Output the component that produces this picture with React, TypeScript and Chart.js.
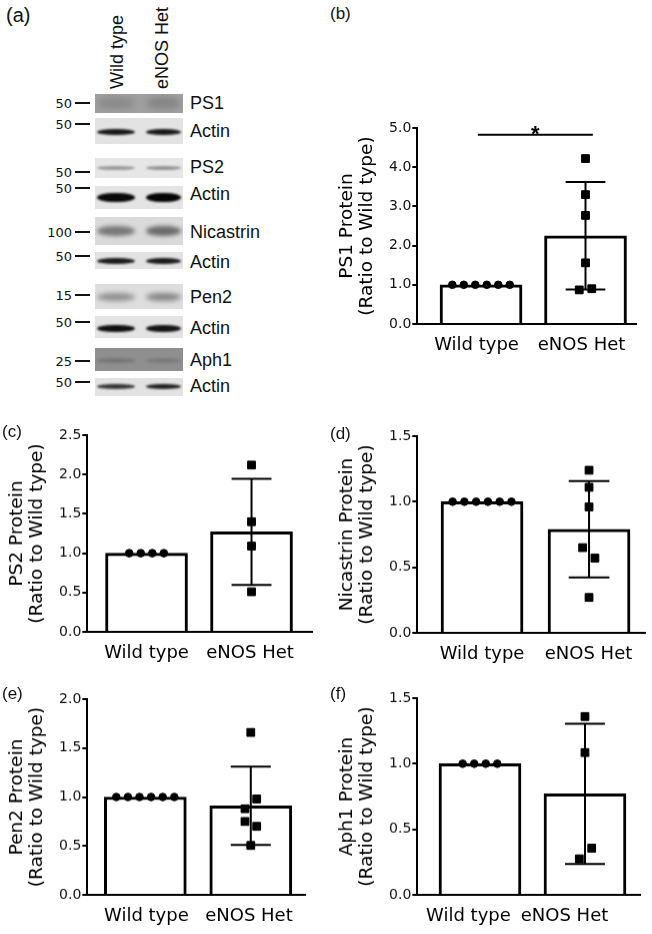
import React, { useEffect, useRef } from 'react';
import { Chart, registerables } from 'chart.js';

Chart.register(...registerables);

const CHART_FONT = '"DejaVu Sans", sans-serif';
const HTML_FONT = '"Liberation Sans", Arial, sans-serif';

// ---------- data ----------
const groups = ['Wild type', 'eNOS Het'];

// (b) PS1
const ps1Wt = [1, 1, 1, 1, 1, 1];
const ps1Het = [4.22, 3.3, 2.77, 1.56, 0.87, 0.9];
const ps1HetJitter = [0, 0, 0, 0, -0.06, 0.06];
const ps1Mean = [1.0, 2.25];
const ps1Sd = [0, 1.37];
const ps1Sig = { from: 0.97, to: 2.07, y: 4.83, label: '*' };

// (c) PS2
const ps2Wt = [1, 1, 1, 1];
const ps2Het = [2.12, 1.4, 1.09, 0.51];
const ps2HetJitter = [0, 0, 0, 0];
const ps2Mean = [1.0, 1.27];
const ps2Sd = [0, 0.675];

// (d) Nicastrin
const nicWt = [1, 1, 1, 1, 1, 1];
const nicHet = [1.24, 1.11, 0.96, 0.65, 0.57, 0.27];
const nicHetJitter = [0, 0, 0, -0.06, 0.055, 0];
const nicMean = [1.0, 0.79];
const nicSd = [0, 0.367];

// (e) Pen2
const pen2Wt = [1, 1, 1, 1, 1, 1];
const pen2Het = [1.66, 0.98, 0.88, 0.75, 0.7, 0.505];
const pen2HetJitter = [0, 0.056, -0.055, -0.055, 0.056, 0];
const pen2Mean = [1.0, 0.91];
const pen2Sd = [0, 0.4];

// (f) Aph1
const aph1Wt = [1, 1, 1, 1];
const aph1Het = [1.36, 1.085, 0.356, 0.275];
const aph1HetJitter = [0, 0, 0.064, -0.054];
const aph1Mean = [1.0, 0.77];
const aph1Sd = [0, 0.535];

// (a) western blot
const blotRows = ['PS1', 'Actin', 'PS2', 'Actin', 'Nicastrin', 'Actin', 'Pen2', 'Actin', 'Aph1', 'Actin'];
const blotMarkers = ['50', '50', '50', '50', '100', '50', '15', '50', '25', '50'];
const laneLabels = ['Wild type', 'eNOS Het'];

// ---------- layout / style ----------
const WT_SPREAD = 0.11;
const CAP = 0.19;
const PAD_TOP = 28;
const X_AXIS_H = 36;

type PanelCfg = {
  key: string;
  left: number;
  width: number;
  axisLeft: number;
  axisRight: number;
  axisTop: number;
  axisBottom: number;
  xMin: number;
  xMax: number;
  yMax: number;
  yStep: number;
  labelPos: number[];
  title: string[];
  wt: number[];
  het: number[];
  jitter: number[];
  mean: number[];
  sd: number[];
  sig?: { from: number; to: number; y: number; label: string };
};

const panels: PanelCfg[] = [
  {
    key: 'b', left: 330, width: 322, axisLeft: 417.3, axisRight: 636.7, axisTop: 128, axisBottom: 324,
    xMin: 0.39, xMax: 2.49, yMax: 5, yStep: 1, labelPos: [0.957, 1.962],
    title: ['PS1 Protein', '(Ratio to Wild type)'],
    wt: ps1Wt, het: ps1Het, jitter: ps1HetJitter, mean: ps1Mean, sd: ps1Sd, sig: ps1Sig,
  },
  {
    key: 'c', left: 0, width: 330, axisLeft: 87.3, axisRight: 312, axisTop: 435, axisBottom: 631.7,
    xMin: 0.436, xMax: 2.576, yMax: 2.5, yStep: 0.5, labelPos: [1, 1.986],
    title: ['PS2 Protein', '(Ratio to Wild type)'],
    wt: ps2Wt, het: ps2Het, jitter: ps2HetJitter, mean: ps2Mean, sd: ps2Sd,
  },
  {
    key: 'd', left: 330, width: 322, axisLeft: 417.3, axisRight: 645, axisTop: 436, axisBottom: 632.7,
    xMin: 0.395, xMax: 2.523, yMax: 1.5, yStep: 0.5, labelPos: [1, 1.995],
    title: ['Nicastrin Protein', '(Ratio to Wild type)'],
    wt: nicWt, het: nicHet, jitter: nicHetJitter, mean: nicMean, sd: nicSd,
  },
  {
    key: 'e', left: 0, width: 330, axisLeft: 87.3, axisRight: 305, axisTop: 699.3, axisBottom: 895,
    xMin: 0.45, xMax: 2.514, yMax: 2, yStep: 0.5, labelPos: [1.01, 1.983],
    title: ['Pen2 Protein', '(Ratio to Wild type)'],
    wt: pen2Wt, het: pen2Het, jitter: pen2HetJitter, mean: pen2Mean, sd: pen2Sd,
  },
  {
    key: 'f', left: 330, width: 322, axisLeft: 417.3, axisRight: 640, axisTop: 698.3, axisBottom: 895,
    xMin: 0.403, xMax: 2.524, yMax: 1.5, yStep: 0.5, labelPos: [0.89, 1.805],
    title: ['Aph1 Protein', '(Ratio to Wild type)'],
    wt: aph1Wt, het: aph1Het, jitter: aph1HetJitter, mean: aph1Mean, sd: aph1Sd,
  },
];

const sigPlugin = {
  id: 'sigStar',
  afterDatasetsDraw(chart: any, _args: any, opts: any) {
    const sig = opts && opts.sig;
    if (!sig) return;
    const { ctx, scales } = chart;
    const px = scales.x.getPixelForValue((sig.from + sig.to) / 2);
    const py = scales.y.getPixelForValue(sig.y);
    ctx.save();
    ctx.fillStyle = '#000';
    ctx.font = 'bold 22px "Liberation Sans", Arial, sans-serif';
    ctx.textAlign = 'center';
    ctx.textBaseline = 'alphabetic';
    ctx.fillText(sig.label, px, py + 6);
    ctx.restore();
  },
};

function BarPanel({ cfg }: { cfg: PanelCfg }) {
  const ref = useRef<HTMLCanvasElement>(null);
  const canvasTop = cfg.axisTop - PAD_TOP;
  const canvasH = cfg.axisBottom - cfg.axisTop + PAD_TOP + X_AXIS_H;

  useEffect(() => {
    if (!ref.current) return;
    const yScaleWidth = cfg.axisLeft - cfg.left;
    const padRight = cfg.left + cfg.width - cfg.axisRight;

    const wtPts = cfg.wt.map((v, i) => ({ x: 1 + (i - (cfg.wt.length - 1) / 2) * WT_SPREAD, y: v }));
    const hetPts = cfg.het.map((v, i) => ({ x: 2 + cfg.jitter[i], y: v }));
    const err: { x: number; y: number | null }[] = [];
    cfg.mean.forEach((m, i) => {
      const s = cfg.sd[i];
      if (!s) return;
      const x = i + 1;
      err.push(
        { x: x - CAP, y: m + s }, { x: x + CAP, y: m + s }, { x, y: null },
        { x, y: m + s }, { x, y: m - s }, { x, y: null },
        { x: x - CAP, y: m - s }, { x: x + CAP, y: m - s }, { x, y: null },
      );
    });

    const datasets: any[] = [
      {
        type: 'scatter', data: wtPts, pointStyle: 'circle', pointRadius: 3.8, pointHoverRadius: 3.8,
        backgroundColor: '#000', borderColor: '#000', borderWidth: 1, order: 0,
      },
      {
        type: 'scatter', data: hetPts, pointStyle: 'rect', pointRadius: 5.5, pointHoverRadius: 5.5,
        backgroundColor: '#000', borderColor: '#000', borderWidth: 1, order: 0,
      },
      {
        type: 'line', data: err, borderColor: '#000', borderWidth: 2, pointRadius: 0,
        pointHitRadius: 0, spanGaps: false, tension: 0, fill: false, order: 1,
      },
    ];
    if (cfg.sig) {
      datasets.push({
        type: 'line',
        data: [{ x: cfg.sig.from, y: cfg.sig.y }, { x: cfg.sig.to, y: cfg.sig.y }],
        borderColor: '#000', borderWidth: 2, pointRadius: 0, fill: false, order: 1,
      });
    }
    datasets.push({
      type: 'bar',
      data: cfg.mean.map((m, i) => ({ x: i + 1, y: m })),
      backgroundColor: '#fff', borderColor: '#000', borderWidth: 3, barThickness: 82, order: 2,
    });

    const chart = new Chart(ref.current, {
      type: 'bar',
      data: { datasets },
      plugins: [sigPlugin],
      options: {
        animation: false,
        responsive: false,
        devicePixelRatio: 1,
        layout: { padding: { top: PAD_TOP, right: padRight, left: 0, bottom: 0 } },
        plugins: {
          legend: { display: false },
          tooltip: { enabled: false },
          sigStar: { sig: cfg.sig },
        } as any,
        scales: {
          x: {
            type: 'linear',
            min: cfg.xMin,
            max: cfg.xMax,
            offset: false,
            afterBuildTicks: (s: any) => {
              s.ticks = cfg.labelPos.map((v) => ({ value: v }));
            },
            afterFit: (s: any) => {
              s.height = X_AXIS_H;
            },
            ticks: {
              autoSkip: false,
              maxRotation: 0,
              minRotation: 0,
              padding: 3,
              color: '#000',
              font: { family: CHART_FONT, size: 18 },
              callback: (_v: any, i: number) => groups[i],
            },
            grid: { display: false, offset: false },
            border: { display: true, color: '#000', width: 2 },
          },
          y: {
            type: 'linear',
            min: 0,
            max: cfg.yMax,
            ticks: {
              stepSize: cfg.yStep,
              padding: 1,
              color: '#111',
              font: { family: CHART_FONT, size: 14 },
              callback: (v: any) => Number(v).toFixed(1),
            },
            grid: {
              display: true, drawOnChartArea: false, drawTicks: true, tickLength: 5,
              color: '#000', lineWidth: 2,
            },
            border: { display: true, color: '#000', width: 2 },
            title: {
              display: true,
              text: cfg.title,
              color: '#000',
              font: { family: CHART_FONT, size: 18.5, lineHeight: 1.08 },
              padding: { top: 7, bottom: 0 },
            },
            afterFit: (s: any) => {
              s.width = yScaleWidth;
            },
          },
        } as any,
      },
    });
    return () => chart.destroy();
  }, [cfg]);

  return (
    <canvas
      ref={ref}
      width={cfg.width}
      height={canvasH}
      style={{ position: 'absolute', left: cfg.left, top: canvasTop, width: cfg.width, height: canvasH }}
    />
  );
}

// ---------- blot (panel a) ----------
const blotLayout = [
  { top: 94, h: 19, band: 103, bh: 12, mark: 103, label: 103, bg: '#a0a0a0', bc: ['#8a8a8a', '#858585'], blur: 3 },
  { top: 118, h: 26, band: 132, bh: 6, mark: 124, label: 131, bg: '#e3e3e3', bc: ['#1a1a1a', '#1a1a1a'], blur: 1 },
  { top: 158, h: 20, band: 168, bh: 4, mark: 172, label: 167, bg: '#e6e6e6', bc: ['#9a9a9a', '#959595'], blur: 1 },
  { top: 186, h: 23, band: 197, bh: 9, mark: 188, label: 194, bg: '#e4e4e4', bc: ['#0a0a0a', '#050505'], blur: 1 },
  { top: 217, h: 28, band: 231, bh: 10, mark: 232, label: 232, bg: '#dadada', bc: ['#777', '#6a6a6a'], blur: 2 },
  { top: 252, h: 17, band: 261, bh: 6, mark: 256, label: 262, bg: '#e2e2e2', bc: ['#1c1c1c', '#1c1c1c'], blur: 1 },
  { top: 284, h: 25, band: 297, bh: 8, mark: 295, label: 297, bg: '#dedede', bc: ['#8e8e8e', '#858585'], blur: 2.5 },
  { top: 316, h: 22, band: 328, bh: 7, mark: 322, label: 328, bg: '#e3e3e3', bc: ['#101010', '#151515'], blur: 1 },
  { top: 348, h: 23, band: 360, bh: 5, mark: 361, label: 360, bg: '#8f8f8f', bc: ['#767676', '#7a7a7a'], blur: 1.5 },
  { top: 378, h: 18, band: 386, bh: 5, mark: 382, label: 386, bg: '#e2e2e2', bc: ['#383838', '#222'], blur: 1 },
];
const lanes = [
  { l: 97, w: 38 },
  { l: 146, w: 35 },
];

function Blot() {
  return (
    <>
      {laneLabels.map((t, i) => (
        <div
          key={t}
          style={{
            position: 'absolute', left: i === 0 ? 108 : 153, top: 89, fontFamily: HTML_FONT, fontSize: 18,
            lineHeight: '18px', whiteSpace: 'nowrap', transformOrigin: 'left top', transform: 'rotate(-90deg)',
            color: '#111',
          }}
        >
          {t}
        </div>
      ))}
      {blotRows.map((name, r) => {
        const L = blotLayout[r];
        return (
          <React.Fragment key={r}>
            <div style={{ position: 'absolute', left: 95, top: L.top, width: 88, height: L.h, background: L.bg, overflow: 'hidden' }}>
              {lanes.map((ln, k) => (
                <div
                  key={k}
                  style={{
                    position: 'absolute', left: ln.l - 95, top: L.band - L.top - L.bh / 2, width: ln.w, height: L.bh,
                    background: L.bc[k], borderRadius: '45% / 50%', filter: `blur(${L.blur}px)`,
                  }}
                />
              ))}
            </div>
            <div
              style={{
                position: 'absolute', left: 190, top: L.label - 8.8, fontFamily: HTML_FONT, fontSize: 18,
                lineHeight: '18px', whiteSpace: 'nowrap', color: '#111',
              }}
            >
              {name}
            </div>
            <div
              style={{
                position: 'absolute', left: 34, width: 38, top: L.mark - 6.3, textAlign: 'right', fontFamily: CHART_FONT,
                fontSize: 13, lineHeight: '13px', color: '#111',
              }}
            >
              {blotMarkers[r]}
            </div>
            <div style={{ position: 'absolute', left: 75, top: L.mark - 1, width: 15, height: 2, background: '#111' }} />
          </React.Fragment>
        );
      })}
    </>
  );
}

const panelLabels = [
  { t: '(a)', x: 6, y: 4.6, s: 20 },
  { t: '(b)', x: 330, y: 5, s: 17 },
  { t: '(c)', x: 2, y: 423, s: 17 },
  { t: '(d)', x: 330, y: 425, s: 17 },
  { t: '(e)', x: 2, y: 685, s: 17 },
  { t: '(f)', x: 330, y: 685, s: 17 },
];

export default function App() {
  return (
    <div style={{ position: 'absolute', left: 0, top: 0, width: 652, height: 934, background: '#fff', overflow: 'hidden' }}>
      <Blot />
      {panels.map((p) => (
        <BarPanel key={p.key} cfg={p} />
      ))}
      {panelLabels.map((p) => (
        <div
          key={p.t}
          style={{
            position: 'absolute', left: p.x, top: p.y, fontFamily: HTML_FONT, fontSize: p.s,
            lineHeight: `${p.s}px`, whiteSpace: 'nowrap', color: '#111',
          }}
        >
          {p.t}
        </div>
      ))}
    </div>
  );
}
